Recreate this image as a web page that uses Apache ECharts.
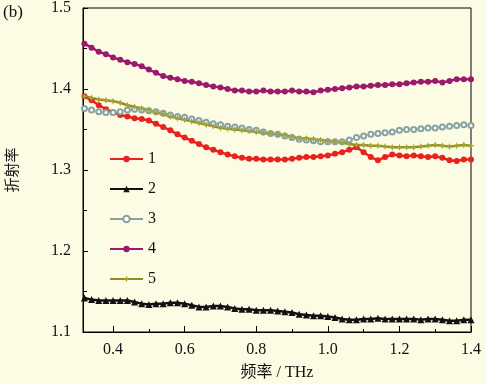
<!DOCTYPE html>
<html><head><meta charset="utf-8">
<script src="https://cdn.jsdelivr.net/npm/echarts@6/dist/echarts.min.js"></script>
<style>html,body{margin:0;padding:0;background:#fcfce4;}#c{width:486px;height:384px;}</style>
</head><body><div id="c"></div>
<script>
const freq = [0.32,0.34,0.36,0.38,0.40,0.42,0.44,0.46,0.48,0.50,0.52,0.54,0.56,0.58,0.60,0.62,0.64,0.66,0.68,0.70,0.72,0.74,0.76,0.78,0.80,0.82,0.84,0.86,0.88,0.90,0.92,0.94,0.96,0.98,1.00,1.02,1.04,1.06,1.08,1.10,1.12,1.14,1.16,1.18,1.20,1.22,1.24,1.26,1.28,1.30,1.32,1.34,1.36,1.38,1.40];
const s1 = [1.391,1.386,1.380,1.375,1.371,1.368,1.366,1.364,1.363,1.361,1.357,1.353,1.349,1.344,1.340,1.336,1.332,1.328,1.325,1.322,1.319,1.317,1.315,1.314,1.314,1.313,1.313,1.313,1.313,1.314,1.315,1.316,1.316,1.317,1.318,1.320,1.322,1.325,1.328,1.322,1.316,1.312,1.316,1.319,1.318,1.317,1.318,1.317,1.316,1.317,1.315,1.312,1.311,1.313,1.313];
const s2 = [1.142,1.140,1.139,1.139,1.139,1.139,1.139,1.137,1.135,1.134,1.135,1.135,1.136,1.136,1.135,1.133,1.131,1.131,1.132,1.132,1.131,1.129,1.128,1.128,1.127,1.127,1.127,1.126,1.125,1.124,1.122,1.121,1.120,1.120,1.119,1.118,1.116,1.115,1.115,1.116,1.116,1.117,1.116,1.116,1.116,1.116,1.116,1.115,1.116,1.116,1.115,1.114,1.114,1.115,1.115];
const s3 = [1.376,1.374,1.372,1.371,1.371,1.372,1.374,1.375,1.374,1.373,1.372,1.370,1.368,1.366,1.365,1.363,1.361,1.359,1.357,1.356,1.354,1.353,1.352,1.350,1.349,1.347,1.345,1.344,1.342,1.340,1.338,1.337,1.336,1.335,1.335,1.335,1.335,1.337,1.340,1.342,1.344,1.345,1.346,1.347,1.349,1.350,1.350,1.351,1.352,1.352,1.353,1.354,1.355,1.356,1.355];
const s4 = [1.456,1.451,1.446,1.443,1.439,1.436,1.433,1.431,1.428,1.424,1.420,1.416,1.414,1.412,1.410,1.409,1.407,1.405,1.403,1.402,1.400,1.398,1.398,1.397,1.397,1.398,1.397,1.397,1.397,1.398,1.397,1.397,1.396,1.398,1.399,1.400,1.401,1.402,1.403,1.403,1.404,1.405,1.405,1.406,1.406,1.407,1.408,1.409,1.409,1.410,1.408,1.410,1.412,1.412,1.412];
const s5 = [1.391,1.389,1.387,1.386,1.385,1.383,1.380,1.378,1.376,1.374,1.371,1.369,1.366,1.364,1.362,1.360,1.358,1.356,1.354,1.352,1.351,1.350,1.349,1.348,1.347,1.346,1.345,1.344,1.343,1.341,1.339,1.339,1.338,1.337,1.336,1.335,1.334,1.332,1.331,1.331,1.330,1.330,1.329,1.328,1.328,1.328,1.328,1.329,1.330,1.331,1.330,1.329,1.330,1.331,1.330];
const seriesNames = ['1','2','3','4','5'];
const xMajorTicks = [0.4,0.6,0.8,1.0,1.2,1.4];
const xMinorTicks = [0.5,0.7,0.9,1.1,1.3];
const yMajorTicks = [1.1,1.2,1.3,1.4,1.5];
const yMinorTicks = [1.15,1.25,1.35,1.45];

const pair = a => freq.map((f,i)=>[f,a[i]]);
const serifFont = 'Liberation Serif, Noto Sans CJK SC, serif';
const XMIN = 0.316, XMAX = 1.4, YMIN = 1.1, YMAX = 1.5;
const chart = echarts.init(document.getElementById('c'));
const mk = (name, data, color, symbol, size, extra) => Object.assign({
  name, type:'line', data: pair(data), symbol, symbolSize:size, smooth:false,
  lineStyle:{color, width:2.5}, itemStyle:{color}, animation:false, z:3
}, extra||{});
const star = 'path://M0,-10L3,-3L10,0L3,3L0,10L-3,3L-10,0L-3,-3Z';
chart.setOption({
  backgroundColor:'#fcfce4',
  animation:false,
  grid:{left:83, right:15, top:8, bottom:52, show:true, borderColor:'#000', borderWidth:1, backgroundColor:'transparent', outerBoundsMode:'none', containLabel:false},
  legend:{
    orient:'vertical', left:104, top:146, itemWidth:33, itemHeight:8, itemGap:14,
    textStyle:{fontFamily:serifFont, fontSize:16, color:'#111'},
    data: seriesNames
  },
  xAxis:[
    {type:'value', min:XMIN, max:XMAX,
     axisLine:{show:true, onZero:false, lineStyle:{color:'#000', width:1}},
     axisTick:{show:true, inside:true, length:6, customValues:xMajorTicks, lineStyle:{color:'#000'}},
     axisLabel:{customValues:xMajorTicks, fontFamily:serifFont, fontSize:16, color:'#111', margin:10,
       formatter:v=>v.toFixed(1)},
     splitLine:{show:false},
     name:'频率 / THz', nameLocation:'middle', nameGap:33,
     nameTextStyle:{fontFamily:serifFont, fontSize:16, color:'#111'}},
    {type:'value', min:XMIN, max:XMAX, position:'bottom',
     axisLine:{show:false}, axisLabel:{show:false}, splitLine:{show:false},
     axisTick:{show:true, inside:true, length:3, customValues:xMinorTicks, lineStyle:{color:'#000'}}}
  ],
  yAxis:[
    {type:'value', min:YMIN, max:YMAX,
     axisLine:{show:true, onZero:false, lineStyle:{color:'#000', width:1}},
     axisTick:{show:true, inside:true, length:5, customValues:yMajorTicks, lineStyle:{color:'#000'}},
     axisLabel:{customValues:yMajorTicks, fontFamily:serifFont, fontSize:16, color:'#111', margin:12,
       formatter:v=>v.toFixed(1)},
     splitLine:{show:false},
     name:'折射率', nameLocation:'middle', nameGap:62, nameRotate:90,
     nameTextStyle:{fontFamily:serifFont, fontSize:15, color:'#111'}},
    {type:'value', min:YMIN, max:YMAX, position:'left',
     axisLine:{show:false}, axisLabel:{show:false}, splitLine:{show:false},
     axisTick:{show:true, inside:true, length:4, customValues:yMinorTicks, lineStyle:{color:'#000'}}}
  ],
  graphic:[{type:'text', left:3, top:4, style:{text:'(b)', font:'17px Liberation Serif', fill:'#111'}}],
  series:[
    mk('1', s1, '#e8221e', 'circle', 6),
    mk('2', s2, '#111111', 'triangle', 7),
    mk('3', s3, '#86a3a0', 'emptyCircle', 5, {lineStyle:{color:'#86a3a0', width:1.2}}),
    mk('4', s4, '#9c1a6c', 'circle', 6),
    mk('5', s5, '#8f8c22', star, 7, {itemStyle:{color:'#a8a22a'}, lineStyle:{color:'#8f8c22', width:2.5}})
  ]
});
</script></body></html>
